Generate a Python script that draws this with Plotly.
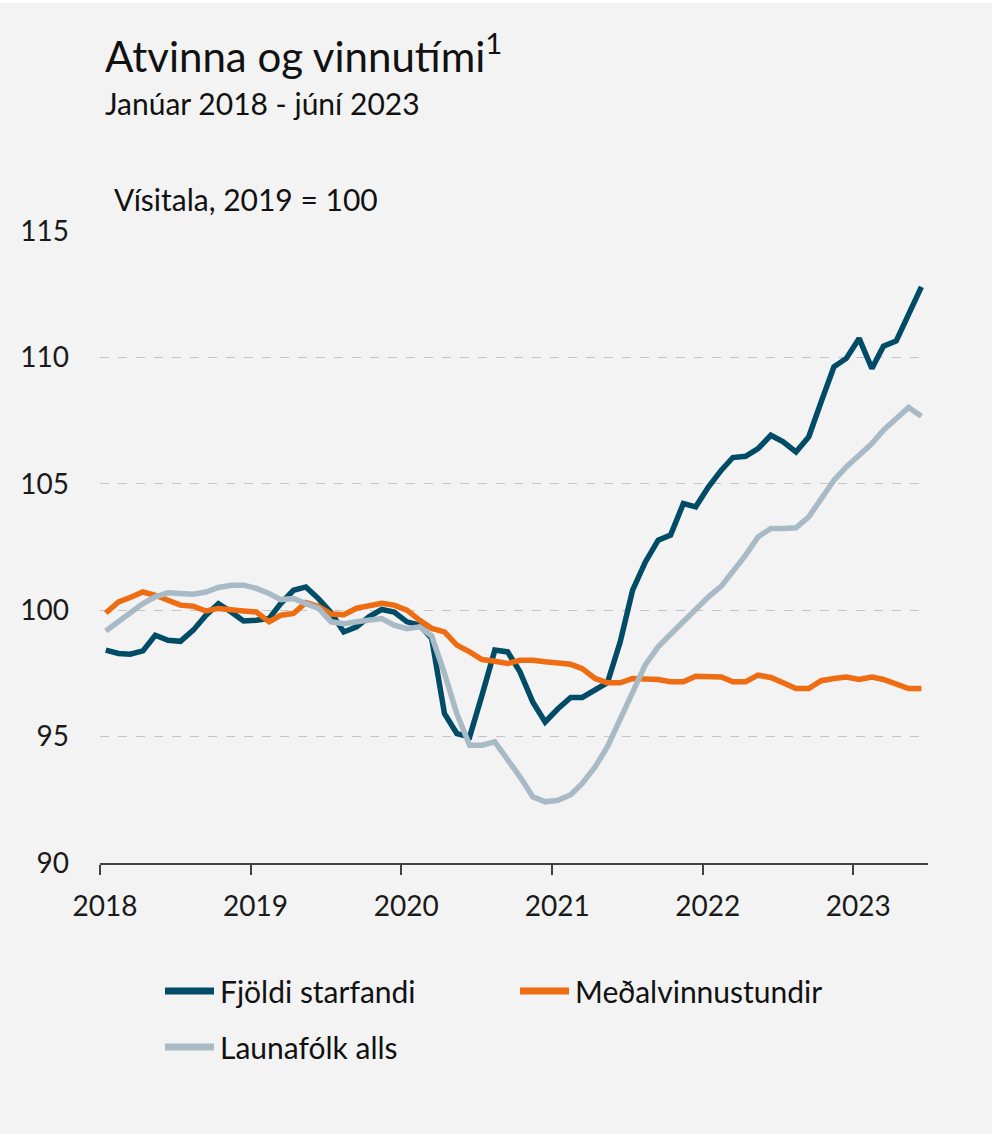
import pandas as pd
import plotly.graph_objects as go

# ---- data (Jan 2018 - Jun 2023, monthly) ----
months = pd.date_range("2018-01-01", periods=66, freq="MS") + pd.Timedelta(days=14)

fjoldi_starfandi = [
    98.42, 98.29, 98.26, 98.39, 99.01, 98.81, 98.77, 99.21, 99.80, 100.26, 99.93, 99.57,
    99.60, 99.67, 100.26, 100.79, 100.92, 100.45, 99.90, 99.14, 99.34, 99.74, 100.03, 99.93,
    99.54, 99.41, 98.88, 95.91, 95.12, 94.99, 96.64, 98.42, 98.35, 97.56, 96.37, 95.58,
    96.10, 96.55, 96.55, 96.84, 97.13, 98.75, 100.79, 101.91, 102.77, 102.97, 104.22, 104.09,
    104.88, 105.54, 106.04, 106.09, 106.39, 106.92, 106.66, 106.26, 106.86, 108.24, 109.63, 109.96,
    110.75, 109.56, 110.44, 110.65, 111.74, 112.79,
]

medalvinnustundir = [
    99.89, 100.33, 100.50, 100.72, 100.59, 100.42, 100.20, 100.16, 99.97, 100.07, 100.00, 99.97,
    99.93, 99.54, 99.80, 99.87, 100.30, 100.15, 99.85, 99.82, 100.08, 100.20, 100.27, 100.20,
    100.00, 99.60, 99.28, 99.14, 98.62, 98.35, 98.05, 97.98, 97.89, 98.02, 98.02, 97.96,
    97.92, 97.86, 97.69, 97.30, 97.13, 97.13, 97.30, 97.30, 97.26, 97.17, 97.17, 97.39,
    97.39, 97.36, 97.17, 97.17, 97.43, 97.34, 97.13, 96.90, 96.90, 97.21, 97.30, 97.36,
    97.26, 97.36, 97.26, 97.07, 96.90, 96.90,
]

launafolk_alls = [
    99.18, 99.54, 99.91, 100.26, 100.53, 100.69, 100.66, 100.63, 100.72, 100.90, 100.99, 100.99,
    100.86, 100.66, 100.42, 100.46, 100.26, 100.07, 99.54, 99.47, 99.54, 99.63, 99.67, 99.41,
    99.27, 99.34, 98.98, 97.50, 95.90, 94.66, 94.66, 94.79, 94.13, 93.41, 92.62, 92.42,
    92.48, 92.70, 93.15, 93.80, 94.60, 95.65, 96.75, 97.85, 98.55, 99.05, 99.55, 100.05,
    100.53, 100.95, 101.52, 102.18, 102.90, 103.23, 103.23, 103.26, 103.69, 104.38, 105.14, 105.67,
    106.13, 106.59, 107.12, 107.58, 108.02, 107.67,
]

series_names = ["Fjöldi starfandi", "Meðalvinnustundir", "Launafólk alls"]
series_values = [fjoldi_starfandi, medalvinnustundir, launafolk_alls]
series_colors = ["#004B66", "#EE6D13", "#A7BAC6"]

year_ticks = [2018, 2019, 2020, 2021, 2022, 2023]
y_ticks = [90, 95, 100, 105, 110, 115]

# ---- layout geometry (pixels) ----
W, H = 992, 1134
L, R, T, B = 100, 64, 231, 271
PW, PH = W - L - R, H - T - B
FONT = "Lato"
BG = "#F3F3F3"


def px_x(x):
    return (x - L) / PW


def px_y(y):
    return (H - B - y) / PH


fig = go.Figure()
for name, vals, col in zip(series_names, series_values, series_colors):
    fig.add_trace(go.Scatter(
        x=months, y=vals, name=name, mode="lines",
        line=dict(color=col, width=5.5), showlegend=False,
    ))

fig.update_layout(
    width=W, height=H,
    margin=dict(l=L, r=R, t=T, b=B),
    paper_bgcolor=BG, plot_bgcolor=BG,
    font=dict(family=FONT, color="#1a1a1a", size=28),
    xaxis=dict(
        type="date",
        range=["2018-01-01", "2023-07-01"],
        tickvals=[f"{y}-01-01" for y in year_ticks],
        ticktext=[str(y) for y in year_ticks],
        showgrid=False, zeroline=False,
        showline=True, linecolor="#404040", linewidth=1.5,
        ticks="outside", ticklen=10, tickcolor="#404040", tickwidth=1.5,
        tickfont=dict(size=28, family=FONT, color="#1a1a1a"),
        ticklabelshift=5, ticklabelstandoff=8,
    ),
    yaxis=dict(
        range=[90, 115], tickvals=y_ticks,
        showgrid=True, gridcolor="#C4C4C4", griddash="dash", gridwidth=1,
        zeroline=False, showline=False, ticks="",
        tickfont=dict(size=28, family=FONT, color="#1a1a1a"),
        ticklabelstandoff=30,
    ),
)

# white strip at top edge
fig.add_shape(type="rect", xref="paper", yref="paper",
              x0=px_x(0), x1=px_x(W), y0=px_y(3), y1=px_y(0),
              fillcolor="white", line_width=0, layer="below")

ann = [
    dict(text="Atvinna og vinnutími<sup>1</sup>", x=px_x(103), y=px_y(53), size=42),
    dict(text="Janúar 2018 - júní 2023", x=px_x(103), y=px_y(103), size=30),
    dict(text="Vísitala, 2019 = 100", x=px_x(112), y=px_y(199), size=30),
]
for a in ann:
    fig.add_annotation(text=a["text"], x=a["x"], y=a["y"], xref="paper", yref="paper",
                       xanchor="left", yanchor="middle", showarrow=False,
                       font=dict(size=a["size"], family=FONT, color="#111111"))

# legend (drawn manually)
legend_pos = [(165, 991), (520, 991), (165, 1047)]
for (lx, ly), name, col in zip(legend_pos, series_names, series_colors):
    fig.add_shape(type="line", xref="paper", yref="paper",
                  x0=px_x(lx), x1=px_x(lx + 49), y0=px_y(ly), y1=px_y(ly),
                  line=dict(color=col, width=7))
    fig.add_annotation(text=name, x=px_x(lx + 53), y=px_y(ly), xref="paper", yref="paper",
                       xanchor="left", yanchor="middle", showarrow=False,
                       font=dict(size=30, family=FONT, color="#111111"))

fig.write_html(
    "out.html",
    config={"displayModeBar": False},
    post_script="document.body.style.margin='0';document.body.style.overflow='hidden';",
)
